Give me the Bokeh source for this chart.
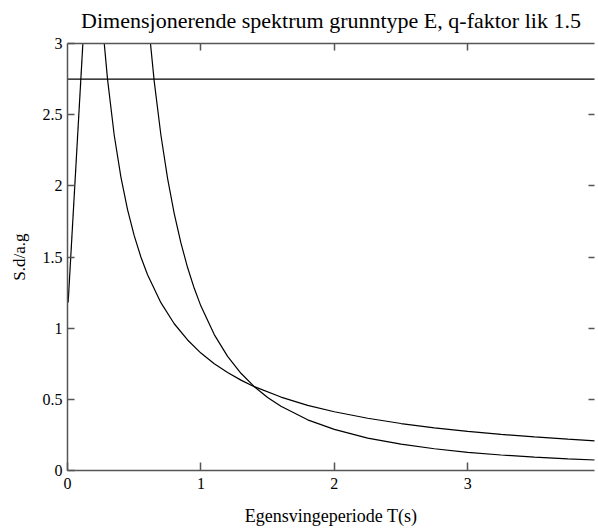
from bokeh.plotting import figure
from bokeh.models import LinearAxis, Range1d, FixedTicker, PrintfTickFormatter, CustomLabelingPolicy
from bokeh.embed import file_html
from bokeh.resources import INLINE

# ---------------- data ----------------
title_text = "Dimensjonerende spektrum grunntype E, q-faktor lik 1.5"
x_label = "Egensvingeperiode T(s)"
y_label = "S.d/a.g"

x_ticks = [0, 1, 2, 3]
y_ticks = [0, 0.5, 1, 1.5, 2, 2.5, 3]
top_ticks = [1, 2, 3]
right_ticks = [0.5, 1, 1.5, 2, 2.5]

# branch 1: rising line
T_rise = [0.005, 0.12]
S_rise = [1.18, 3.08]

# branch 2: plateau
T_plat = [0.0, 4.0]
S_plat = [2.75, 2.75]

# branch 3: ~1/T decay
T_c = [0.27, 0.3, 0.35, 0.4, 0.45, 0.5, 0.55, 0.6, 0.7, 0.8, 0.9, 1.0, 1.1, 1.2,
       1.3, 1.4, 1.6, 1.8, 2.0, 2.25, 2.5, 2.75, 3.0, 3.25, 3.5, 3.75, 4.0]
S_c = [3.056, 2.75, 2.357, 2.063, 1.833, 1.65, 1.5, 1.375, 1.179, 1.031, 0.917, 0.825,
       0.75, 0.688, 0.635, 0.589, 0.516, 0.458, 0.413, 0.367, 0.33, 0.3, 0.275,
       0.254, 0.236, 0.22, 0.206]

# branch 4: ~1/T^2 decay
T_d = [0.6, 0.65, 0.7, 0.75, 0.8, 0.85, 0.9, 0.95, 1.0, 1.1, 1.2, 1.3, 1.4, 1.5,
       1.6, 1.8, 2.0, 2.25, 2.5, 2.75, 3.0, 3.25, 3.5, 3.75, 4.0]
S_d = [3.208, 2.734, 2.357, 2.053, 1.805, 1.599, 1.426, 1.28, 1.155, 0.955, 0.802,
       0.683, 0.589, 0.513, 0.451, 0.356, 0.289, 0.228, 0.185, 0.153, 0.128, 0.109,
       0.094, 0.082, 0.072]

# ---------------- figure ----------------
SERIF = "Liberation Serif"
AX = "#555555"

p = figure(width=598, height=531, output_backend="svg", toolbar_location=None,
           x_range=Range1d(0, 3.95), y_range=Range1d(0, 3),
           min_border_left=67, min_border_right=0, min_border_top=43,
           min_border_bottom=61)

p.title.text = title_text
p.title.text_font = SERIF
p.title.text_font_size = "22px"
p.title.text_font_style = "normal"
p.title.align = "center"
p.title.offset = 8
p.title.vertical_align = "top"
p.title.text_color = "black"

p.xgrid.visible = False
p.ygrid.visible = False
p.outline_line_color = None
p.background_fill_color = "white"
p.border_fill_color = "white"

def style(ax, ticks, tick_in):
    ax.ticker = FixedTicker(ticks=ticks)
    ax.formatter = PrintfTickFormatter(format="%g")
    ax.axis_line_color = AX
    ax.axis_line_width = 1.5
    ax.major_tick_line_color = AX
    ax.major_tick_line_width = 1.5
    ax.major_tick_in = tick_in
    ax.major_tick_out = 0
    ax.minor_tick_line_color = None
    ax.major_label_text_font = SERIF
    ax.major_label_text_font_size = "16px"
    ax.major_label_text_color = "black"
    ax.axis_label_text_font = SERIF
    ax.axis_label_text_font_size = "18px"
    ax.axis_label_text_font_style = "normal"
    ax.axis_label_text_color = "black"

style(p.xaxis[0], x_ticks, 8)
p.xaxis[0].axis_label = x_label
p.xaxis[0].major_label_standoff = 7
p.xaxis[0].axis_label_standoff = 14

style(p.yaxis[0], y_ticks, 7)
p.yaxis[0].axis_label = y_label
p.yaxis[0].axis_label_text_font_size = "17px"
p.yaxis[0].major_label_standoff = 5
p.yaxis[0].axis_label_standoff = 11

no_labels = CustomLabelingPolicy(code="""
const all = [...indices]
for (const i of all) indices.unset(i)
return indices
""")

top = LinearAxis()
style(top, top_ticks, 7)
top.major_label_policy = no_labels
top.major_label_text_font_size = "1px"
top.major_label_standoff = 0
p.add_layout(top, "above")

right = LinearAxis()
style(right, right_ticks, 6)
right.axis_line_color = None
right.major_label_policy = no_labels
right.major_label_text_font_size = "1px"
right.major_label_standoff = 0
p.add_layout(right, "right")

for T, S in [(T_rise, S_rise), (T_plat, S_plat), (T_c, S_c), (T_d, S_d)]:
    p.line(T, S, line_color="black", line_width=1.2)

open("out.html", "w").write(file_html(p, INLINE))
